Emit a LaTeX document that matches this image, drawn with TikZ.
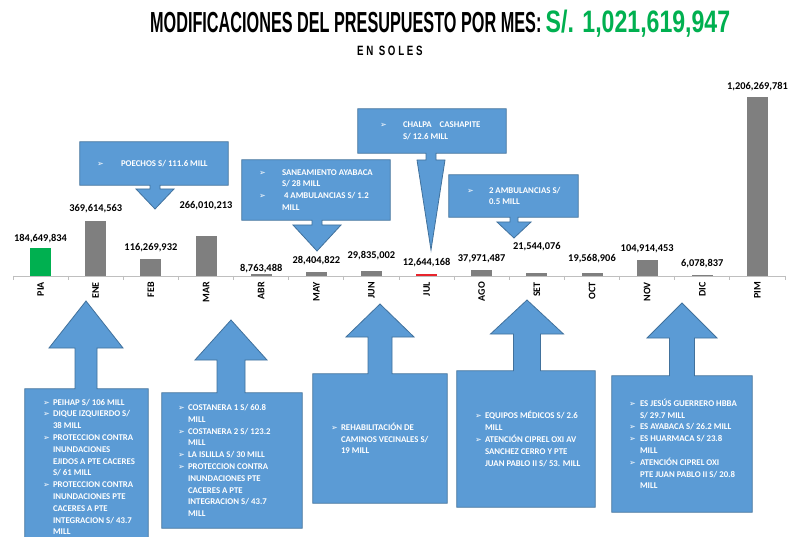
\documentclass[tikz,border=0pt]{standalone}
\usepackage{fontspec}
\setmainfont{Carlito}
\newfontfamily\arial{Liberation Sans}
\newfontfamily\flechas{DejaVu Sans}
\newfontfamily\espaciada[LetterSpace=28]{Liberation Sans}
\usetikzlibrary{positioning}

\definecolor{azul}{HTML}{5B9BD5}
\definecolor{azulborde}{HTML}{41719C}
\definecolor{verde}{HTML}{00B050}
\definecolor{gris}{HTML}{7F7F7F}
\definecolor{rojo}{HTML}{E8242C}
\definecolor{ejegris}{HTML}{BFBFBF}

\tikzset{caja/.style = {inner sep=0pt, minimum width=#1},
         texto/.style = {inner sep=0pt, align=left, text=white, font=\bfseries\fontsize{8.8}{11.8}\selectfont},
         globo/.style = {fill=azul, draw=azulborde, line width=0.8pt},
         barra/.style = {inner sep=0pt, minimum width=21pt, anchor=south},
         valor/.style = {inner sep=0pt, font=\bfseries\fontsize{10.4}{12}\selectfont},
         mes/.style = {inner sep=0pt, rotate=90, anchor=east, font=\bfseries\fontsize{10}{12}\selectfont},
         eje/.style = {draw=ejegris, line width=0.8pt}
        }

\newcommand{\vineta}[1][10pt]{\makebox[#1][l]{\flechas\fontsize{8}{8}\selectfont ➢}}
\newcommand{\sangria}[1][10pt]{\hspace*{#1}}
\newcommand{\globoabajo}[6]{%
  \filldraw[globo] (#1.north west) -- (#1.north east) -- (#1.south east)
    -- ({#2+#3},0 |- #1.south) -- ({#2+#3},#5) -- ({#2+#4},#5) -- (#2,#6)
    -- ({#2-#4},#5) -- ({#2-#3},#5) -- ({#2-#3},0 |- #1.south) -- (#1.south west) -- cycle;}
\newcommand{\globoarriba}[6]{%
  \filldraw[globo] (#1.south west) -- (#1.south east) -- (#1.north east)
    -- ({#2+#3},0 |- #1.north) -- ({#2+#3},#5) -- ({#2+#4},#5) -- (#2,#6)
    -- ({#2-#4},#5) -- ({#2-#3},#5) -- ({#2-#3},0 |- #1.north) -- (#1.north west) -- cycle;}

\begin{document}
\begin{tikzpicture}[x=1pt, y=-1pt]
\useasboundingbox (0,0) rectangle (811,537);
\fill[white] (0,0) rectangle (811,537);

\node[inner sep=0pt, anchor=base west, xscale=0.56, font=\arial\bfseries\fontsize{29}{29}\selectfont] (titulo) at (150,33) {MODIFICACIONES DEL PRESUPUESTO POR MES:};
\node[inner sep=0pt, anchor=base west, xscale=0.745, text=verde, font=\arial\bfseries\fontsize{31}{31}\selectfont] (monto) at ([xshift=4pt]titulo.base east) {S/. 1,021,619,947};
\node[inner sep=0pt, anchor=base west, xscale=0.72, font=\espaciada\bfseries\fontsize{13.5}{13.5}\selectfont] (soles) at (357,56) {EN SOLES};

\draw[eje] (13,276) -- (785,276);
\foreach \i in {0,...,14}
   \draw[eje] ({13+55.14*\i},276) -- ++(0,4);
\foreach \m/\val/\mill/\ly/\col [count=\i from 0] in {PIA/{184,649,834}/184.65/239/verde, ENE/{369,614,563}/369.61/209/gris, FEB/{116,269,932}/116.27/248/gris, MAR/{266,010,213}/266.01/206/gris, ABR/{8,763,488}/8.76/269/gris, MAY/{28,404,822}/28.40/261/gris, JUN/{29,835,002}/29.84/256/gris, JUL/{12,644,168}/12.64/263/rojo, AGO/{37,971,487}/37.97/259/gris, SET/{21,544,076}/21.54/247/gris, OCT/{19,568,906}/19.57/259/gris, NOV/{104,914,453}/104.91/249/gris, DIC/{6,078,837}/6.08/264/gris, PIM/{1,206,269,781}/1206.27/87/gris}
   {\pgfmathsetmacro\x{40.6+55.14*\i}
    \pgfmathsetmacro\alto{\mill*0.1484}
    \node[barra, fill=\col, minimum height=\alto pt] (b\m) at (\x,276) {};
    \node[valor] (v\m) at (\x,\ly) {\val};
    \node[mes] (c\m) at (\x,282) {\m};}

\node[caja=148pt, minimum height=43pt] (poechos) at (154,163.5) {};
\globoabajo{poechos}{155}{5}{19}{189}{209}
\node[texto, right=17pt of poechos.west] (tpoechos) {\vineta[24pt]POECHOS S/ 111.6 MILL};

\node[caja=148pt, minimum height=60pt] (saneam) at (316,190) {};
\globoabajo{saneam}{317}{5}{24}{225}{251}
\node[texto, right=17pt of saneam.west] (tsaneam) {\vineta[23pt]SANEAMIENTO AYABACA\\
   \sangria[23pt]S/ 28 MILL\\
   \vineta[23pt]\hspace*{2pt}4 AMBULANCIAS S/ 1.2\\
   \sangria[23pt]MILL};

\node[caja=148pt, minimum height=44pt] (chalpa) at (432,131) {};
\globoabajo{chalpa}{431}{5}{14}{160}{250}
\node[texto, right=22pt of chalpa.west] (tchalpa) {\vineta[23pt]CHALPA\hspace{8pt}CASHAPITE\\
   \sangria[23pt]S/ 12.6 MILL};

\node[caja=129pt, minimum height=42pt] (ambul) at (513.5,196) {};
\globoabajo{ambul}{514}{4}{17}{222}{238}
\node[texto, right=18pt of ambul.west] (tambul) {\vineta[22pt]2 AMBULANCIAS S/\\
   \sangria[22pt]0.5 MILL};

\node[caja=123pt, minimum height=156pt] (peihap) at (86.5,467) {};
\globoarriba{peihap}{86}{11}{37}{348}{301}
\node[texto, right=18pt of peihap.west] (tpeihap) {\vineta PEIHAP S/ 106 MILL\\
   \vineta DIQUE IZQUIERDO S/\\
   \sangria 38 MILL\\
   \vineta PROTECCION CONTRA\\
   \sangria INUNDACIONES\\
   \sangria EJIDOS A PTE CACERES\\
   \sangria S/ 61 MILL\\
   \vineta PROTECCION CONTRA\\
   \sangria INUNDACIONES PTE\\
   \sangria CACERES A PTE\\
   \sangria INTEGRACION S/ 43.7\\
   \sangria MILL};

\node[caja=140pt, minimum height=135pt] (costanera) at (232,460.5) {};
\globoarriba{costanera}{231}{14}{36}{360}{320}
\node[texto, right=16pt of costanera.west] (tcostanera) {\vineta COSTANERA 1 S/ 60.8\\
   \sangria MILL\\
   \vineta COSTANERA 2 S/ 123.2\\
   \sangria MILL\\
   \vineta LA ISLILLA S/ 30 MILL\\
   \vineta PROTECCION CONTRA\\
   \sangria INUNDACIONES PTE\\
   \sangria CACERES A PTE\\
   \sangria INTEGRACION S/ 43.7\\
   \sangria MILL};

\node[caja=134pt, minimum height=129pt] (rehab) at (380,438.5) {};
\globoarriba{rehab}{380}{12}{34}{337}{304}
\node[texto, right=18pt of rehab.west] (trehab) {\vineta REHABILITACIÓN DE\\
   \sangria CAMINOS VECINALES S/\\
   \sangria 19 MILL};

\node[caja=138pt, minimum height=136pt] (equipos) at (526,439) {};
\globoarriba{equipos}{527}{13.5}{36.5}{334}{300}
\node[texto, right=18pt of equipos.west] (tequipos) {\vineta EQUIPOS MÉDICOS S/ 2.6\\
   \sangria MILL\\
   \vineta ATENCIÓN CIPREL OXI AV\\
   \sangria SANCHEZ CERRO Y PTE\\
   \sangria JUAN PABLO II S/ 53. MILL};

\node[caja=140pt, minimum height=136pt] (esjesus) at (682,444) {};
\globoarriba{esjesus}{682}{12.5}{35}{338}{303}
\node[texto, right=17pt of esjesus.west] (tesjesus) {\vineta[11pt]ES JESÚS GUERRERO HBBA\\
   \sangria[11pt]S/ 29.7 MILL\\
   \vineta[11pt]ES AYABACA S/ 26.2 MILL\\
   \vineta[11pt]ES HUARMACA S/ 23.8\\
   \sangria[11pt]MILL\\
   \vineta[11pt]ATENCIÓN CIPREL OXI\\
   \sangria[11pt]PTE JUAN PABLO II S/ 20.8\\
   \sangria[11pt]MILL};
\end{tikzpicture}
\end{document}
